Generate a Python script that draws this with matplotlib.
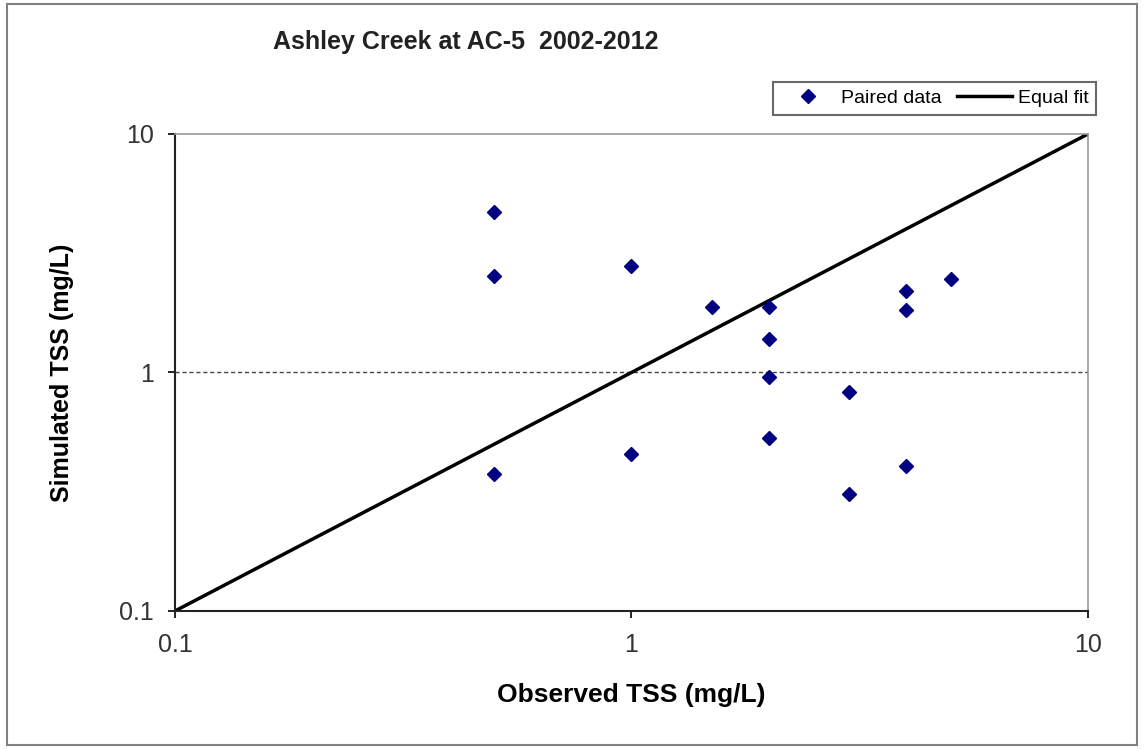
import matplotlib.pyplot as plt
from matplotlib.patches import Rectangle

plt.rcParams['font.family'] = ['Liberation Sans', 'DejaVu Sans']

# paired observed / simulated TSS (mg/L)
observed = [0.5, 0.5, 0.5, 1, 1, 1.5, 2, 2, 2, 2, 3, 3, 4, 4, 4, 5]
simulated = [4.7, 2.55, 0.375, 2.8, 0.455, 1.88, 1.88, 1.38, 0.955, 0.53,
             0.83, 0.31, 2.19, 1.83, 0.407, 2.47]
fit_x = [0.1, 10]
fit_y = [0.1, 10]
ticks = [0.1, 1, 10]
tick_labels = ['0.1', '1', '10']

fig = plt.figure(figsize=(11.44, 7.49), dpi=100)
ax = fig.add_axes([0.153, 0.1843, 0.798, 0.6368])

# outer chart border
fig.patches.append(Rectangle((0.006, 0.006), 0.988, 0.988, transform=fig.transFigure,
                             fill=False, edgecolor='#808080', linewidth=1.5))

ax.axhline(1, color='#444444', linewidth=1, linestyle=(0, (3, 2)), zorder=1)
ax.plot(fit_x, fit_y, color='black', linewidth=2.5, label='Equal fit', zorder=2)
ax.plot(observed, simulated, linestyle='none', marker='D', markersize=7.5,
        color='#000080', label='Paired data', zorder=3)

ax.set_xscale('log')
ax.set_yscale('log')
ax.set_xlim(0.1, 10)
ax.set_ylim(0.1, 10)
ax.set_xticks(ticks)
ax.set_xticklabels(tick_labels)
ax.set_yticks(ticks)
ax.set_yticklabels(tick_labels)
ax.minorticks_off()
ax.tick_params(axis='both', direction='out', length=5, width=1.2, labelsize=18,
               labelcolor='#333333')
ax.tick_params(axis='x', pad=11)
ax.tick_params(axis='y', pad=10)

for side in ['left', 'bottom']:
    ax.spines[side].set_linewidth(1.5)
    ax.spines[side].set_color('#222222')
for side in ['top', 'right']:
    ax.spines[side].set_linewidth(1.2)
    ax.spines[side].set_color('#999999')

ax.set_xlabel('Observed TSS (mg/L)', fontsize=19, fontweight='bold')
ax.set_ylabel('Simulated TSS (mg/L)', fontsize=18, fontweight='bold')
ax.xaxis.set_label_coords(0.5, -0.15)
ax.yaxis.set_label_coords(-0.111, 0.5)
fig.text(0.407, 0.944, 'Ashley Creek at AC-5  2002-2012', fontsize=18,
         fontweight='bold', ha='center', va='center', color='#222222')

handles, labels = ax.get_legend_handles_labels()
leg = fig.legend(handles[::-1], labels[::-1], loc='center', bbox_to_anchor=(0.817, 0.8685),
                 ncol=2, fontsize=14, frameon=True, fancybox=False, handlelength=2.8,
                 columnspacing=0.8, handletextpad=0.3, borderpad=0.4, borderaxespad=0)
leg.get_frame().set_edgecolor('#444444')
leg.get_frame().set_linewidth(1.5)

plt.savefig('out.png', dpi=100)
